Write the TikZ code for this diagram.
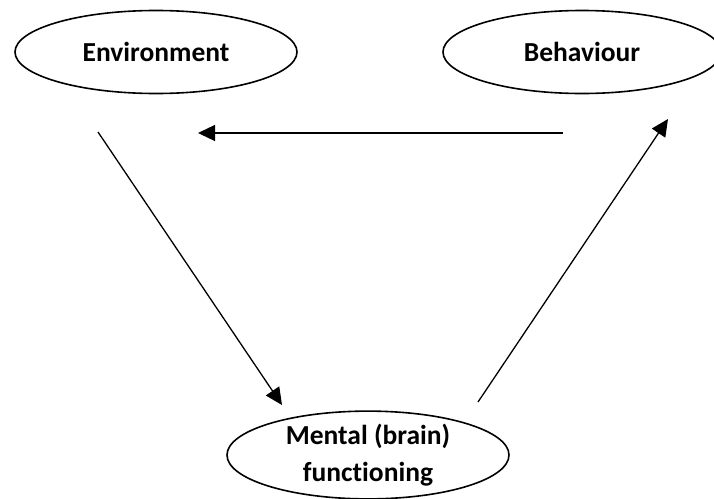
\documentclass[tikz,border=0pt]{standalone}
\usepackage{fontspec}
\setmainfont{Carlito}[RawFeature=-liga]
\usetikzlibrary{shapes.geometric,arrows.meta}
\begin{document}
\begin{tikzpicture}[x=1pt,y=-1pt,
  oval/.style={ellipse,draw=black,line width=1.6pt,minimum width=282pt,minimum height=83pt,inner sep=0pt,
    font=\fontsize{27.5}{37}\selectfont\bfseries,text=black,align=center},
  link/.style={draw=black,line width=1.3pt,-{Triangle[length=17pt,width=16pt]}}]
\useasboundingbox (0,0) rectangle (714,498);
\node[oval] (env) at (156,52) {Environment};
\node[oval,minimum width=278pt] (beh) at (582,52) {Behaviour};
\node[oval,minimum width=282pt,minimum height=84pt] (men) at (368,455) {Mental (brain)\\functioning};
\coordinate (h1) at (563,133);
\coordinate (h2) at (198,133);
\coordinate (d1s) at (98,132);
\coordinate (d1e) at (282,405);
\coordinate (d2s) at (478,402);
\coordinate (d2e) at (668,119);
\draw[link] (h1) -- (h2);
\draw[link] (d1s) -- (d1e);
\draw[link] (d2s) -- (d2e);
\end{tikzpicture}
\end{document}
